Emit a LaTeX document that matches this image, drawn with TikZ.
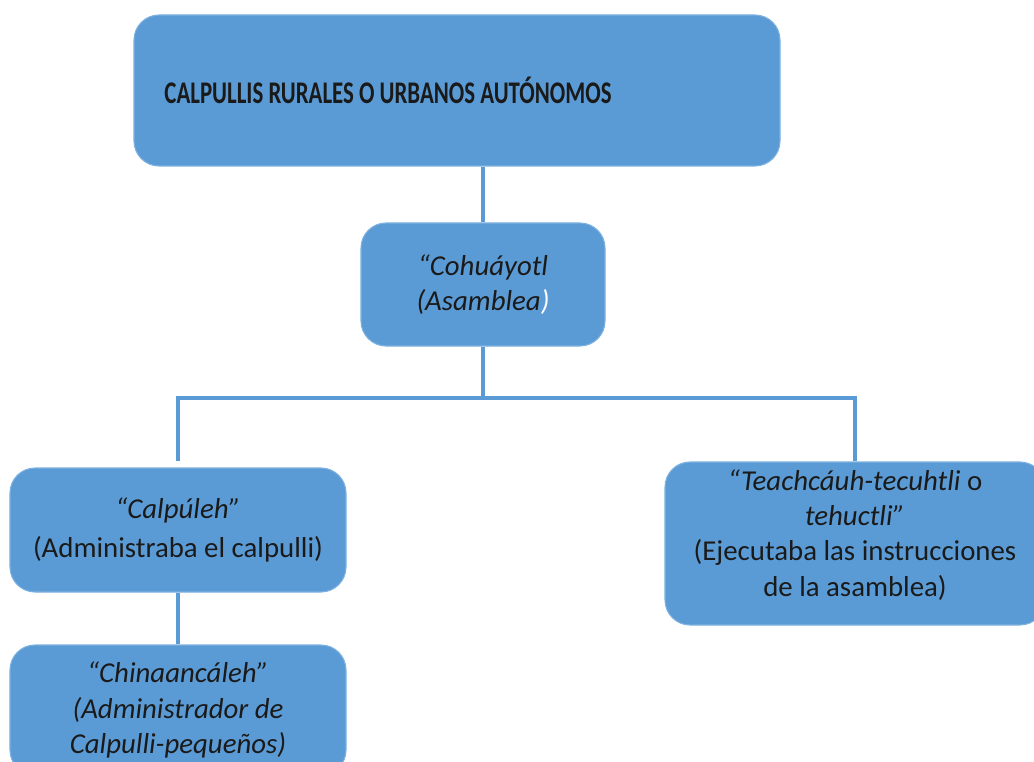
\documentclass[tikz,border=0pt]{standalone}
\usepackage{fontspec}
\setmainfont{Carlito}
\usetikzlibrary{positioning}
\definecolor{boxblue}{HTML}{5B9BD5}
\definecolor{edgeblue}{HTML}{7DB1E0}
\definecolor{inkdark}{HTML}{1A1A1A}

\begin{document}
\begin{tikzpicture}[
  unit/.style={draw=edgeblue, line width=0.6pt, fill=boxblue, rounded corners=0.5cm,
    align=center, text=inkdark, inner sep=2pt},
  link/.style={draw=boxblue, line width=1.8pt},
  lower/.style={font=\fontsize{16.4}{20}\selectfont}
]
\useasboundingbox (0,0) rectangle (20.68,-15.22);
\clip (0,0) rectangle (20.68,-15.22);
\node[unit, minimum width=12.92cm, minimum height=3.02cm,
  font=\fontsize{13}{15}\selectfont\bfseries] (top) at (9.14,-1.81)
  {\scalebox{1}[1.38]{CALPULLIS RURALES O URBANOS AUTÓNOMOS}\hspace*{2.76cm}};
\node[unit, lower, minimum width=4.88cm, minimum height=2.46cm] (mid) at (9.66,-5.69)
  {\textit{“Cohuáyotl}\\ \textit{(Asamblea}\textcolor{white}{\textit{)}}};
\node[unit, lower, minimum width=6.72cm, minimum height=2.48cm] (calp) at (3.56,-10.6)
  {\textit{“Calpúleh”}\\[2pt] (Administraba el calpulli)};
\node[unit, lower, minimum width=6.72cm, minimum height=2.6cm] (chin) at (3.56,-14.2)
  {\textit{“Chinaancáleh”}\\ \textit{(Administrador de}\\ \textit{Calpulli-pequeños)}};
\node[unit, lower, minimum width=7.6cm, minimum height=3.26cm] (teach) at (17.1,-10.87)
  {\textit{“Teachcáuh-tecuhtli} o\\ \textit{tehuctli”}\\ (Ejecutaba las instrucciones\\ de la asamblea)\\[-8pt]};
\coordinate (bar) at (9.66,-7.96);
\draw[link] (mid.north) -- (mid.north |- top.south);
\draw[link] (mid.south) -- (bar);
\draw[link, shorten >=0.12cm] (bar) -| (calp.north);
\draw[link] (bar) -| (teach.north);
\draw[link] (calp.south) -- (chin.north);
\end{tikzpicture}
\end{document}
